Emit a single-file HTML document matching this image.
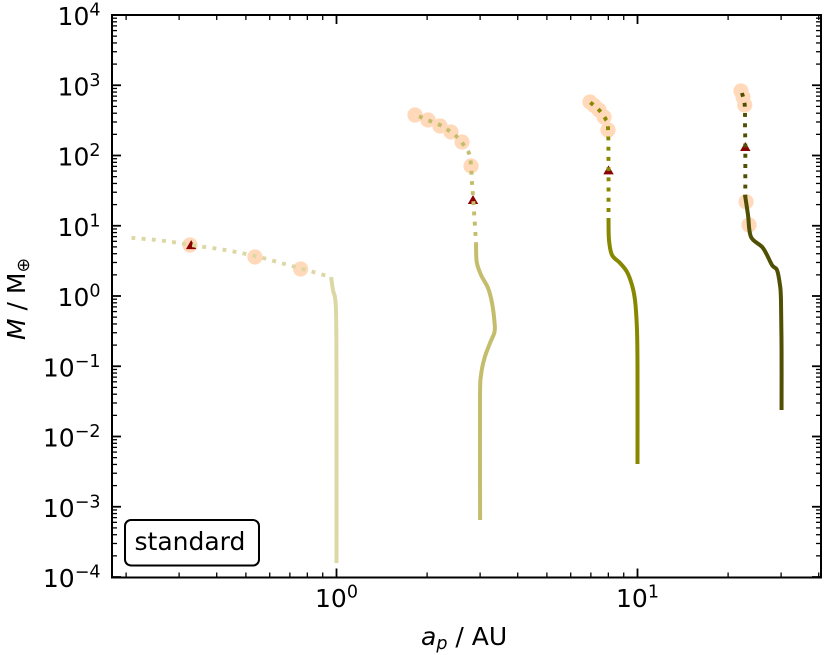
<!DOCTYPE html>
<html>
<head>
<meta charset="utf-8">
<title>Planet growth tracks</title>
<style>
html,body{margin:0;padding:0;background:#fff;}
svg{display:block;}
text{font-family:"DejaVu Sans","Liberation Sans",sans-serif;fill:#000;}
</style>
</head>
<body>
<svg id="chart" width="830" height="655" viewBox="0 0 830 655" xmlns="http://www.w3.org/2000/svg">
  <g id="marks"></g>
  <g id="ticks"></g>
  <rect x="112" y="15" width="709" height="562.5" fill="none" stroke="#000" stroke-width="2"/>
  <g id="labels"></g>
  <text x="421" y="645" font-size="25"><tspan font-style="italic">a</tspan><tspan font-style="italic" font-size="17.5" dy="4">p</tspan><tspan dy="-4"> / AU</tspan></text>
  <text transform="translate(25 340) rotate(-90)" font-size="25"><tspan font-style="italic">M</tspan><tspan> / M</tspan><tspan font-size="17.5" dy="4">⊕</tspan></text>
  <g>
    <rect x="125" y="520" width="134" height="45.5" rx="6" ry="6" fill="#fff" stroke="#000" stroke-width="2"/>
    <text x="134.5" y="550" font-size="25">standard</text>
  </g>
</svg>
<script>
// Axis ticks
const xMajorTicks = [1, 10];
const xTickExponents = ['0', '1'];
const xMinorTicks = [0.2, 0.3, 0.4, 0.5, 0.6, 0.7, 0.8, 0.9, 2, 3, 4, 5, 6, 7, 8, 9, 20, 30, 40];
const yMajorTicks = [1e-4, 1e-3, 1e-2, 1e-1, 1, 10, 100, 1000, 10000];
const yTickExponents = ['−4', '−3', '−2', '−1', '0', '1', '2', '3', '4'];
const yMinorFactors = [2, 3, 4, 5, 6, 7, 8, 9];

// Planet 1 (a0 = 1 AU)
const p1SolidA = [0.959, 0.973, 0.996, 1.0, 1.0];
const p1SolidM = [1.86, 1.22, 0.632, 0.033, 1.58e-4];
const p1DotA = [0.2084, 0.269, 0.336, 0.426, 0.536, 0.674, 0.959];
const p1DotM = [6.74, 6.07, 5.24, 4.52, 3.71, 2.85, 1.86];
const p1CircleA = [0.326, 0.536, 0.760];
const p1CircleM = [5.32, 3.59, 2.42];
const p1TriangleA = 0.329;
const p1TriangleM = 5.3;

// Planet 2 (a0 = 3 AU)
const p2SolidA = [2.908, 2.923, 3.021, 3.187, 3.286, 3.349, 3.349, 3.236, 3.103, 3.021, 2.997, 3.0];
const p2SolidM = [5.68, 3.05, 1.99, 1.30, 0.795, 0.426, 0.307, 0.214, 0.131, 0.0751, 0.0331, 6.48e-4];
const p2DotA = [1.880, 2.045, 2.207, 2.346, 2.495, 2.632, 2.749, 2.791, 2.819, 2.847, 2.908];
const p2DotM = [361.4, 309.8, 271.7, 230.7, 189.6, 145.8, 110.0, 80.8, 40.6, 23.26, 5.68];
const p2CircleA = [1.823, 2.014, 2.207, 2.401, 2.612, 2.798];
const p2CircleM = [377.2, 320.1, 262.9, 216.0, 155.7, 70.9];
const p2TriangleA = 2.841;
const p2TriangleM = 23.26;

// Planet 3 (a0 = 10 AU)
const p3SolidA = [8.011, 8.04, 8.228, 8.747, 9.228, 9.587, 9.811, 9.961, 10, 10];
const p3SolidM = [12.89, 6.27, 3.83, 2.95, 2.20, 1.43, 0.877, 0.328, 0.0884, 4.06e-3];
const p3DotA = [6.968, 7.450, 7.834, 7.980, 8.011, 8.011];
const p3DotM = [568.2, 444.4, 330.8, 246.3, 60.2, 12.89];
const p3CircleA = [6.953, 7.17, 7.450, 7.742, 7.980];
const p3CircleM = [577.6, 514.9, 444.4, 353.2, 230.7];
const p3TriangleA = 8.011;
const p3TriangleM = 61.5;

// Planet 4 (a0 = 30 AU)
const p4SolidA = [22.76, 23.29, 23.83, 26.12, 27.98, 29.07, 29.74, 29.97, 30.1, 30.1];
const p4SolidM = [27.4, 14.2, 6.92, 4.82, 2.76, 2.34, 1.43, 0.877, 0.170, 0.0238];
const p4DotA = [22.24, 22.71, 22.76, 22.81, 22.81];
const p4DotM = [775.6, 523.4, 271.8, 132.1, 25.67];
const p4CircleA = [22.07, 22.41, 22.71, 22.94, 23.47];
const p4CircleM = [828.2, 680.3, 523.4, 22.0, 10.25];
const p4TriangleA = 22.81;
const p4TriangleM = 132.1;

const NS = 'http://www.w3.org/2000/svg';
const marks = document.getElementById('marks');
const ticks = document.getElementById('ticks');
const labels = document.getElementById('labels');

function xScale(a) { return 336.5 + 301 * Math.log10(a); }
function yScale(m) { return 296 - 70.25 * Math.log10(m); }

function make(tag, parent, attrs) {
  const el = document.createElementNS(NS, tag);
  for (const k in attrs) el.setAttribute(k, attrs[k]);
  parent.appendChild(el);
  return el;
}
// Smooth Catmull-Rom path through the projected data points
function curveOf(as, ms) {
  const p = as.map((a, i) => [xScale(a), yScale(ms[i])]);
  let d = 'M' + p[0][0].toFixed(2) + ' ' + p[0][1].toFixed(2);
  for (let i = 0; i < p.length - 1; i++) {
    const p0 = p[Math.max(i - 1, 0)], p1 = p[i], p2 = p[i + 1], p3 = p[Math.min(i + 2, p.length - 1)];
    const c1x = p1[0] + (p2[0] - p0[0]) / 6, c1y = p1[1] + (p2[1] - p0[1]) / 6;
    const c2x = p2[0] - (p3[0] - p1[0]) / 6, c2y = p2[1] - (p3[1] - p1[1]) / 6;
    d += 'C' + c1x.toFixed(2) + ' ' + c1y.toFixed(2) + ' ' + c2x.toFixed(2) + ' ' + c2y.toFixed(2) + ' ' + p2[0].toFixed(2) + ' ' + p2[1].toFixed(2);
  }
  return d;
}

function drawCircles(as, ms, id) {
  as.forEach((a, i) => {
    const c = make('circle', marks, { cx: xScale(a), cy: yScale(ms[i]), r: 7.6, fill: '#ffd9b9' });
    
    
  });
}
function drawTriangle(a, m, id) {
  const x = xScale(a), y = yScale(m);
  const t = make('polygon', marks, {
    points: (x - 5.2) + ',' + (y + 4) + ' ' + (x + 5.2) + ',' + (y + 4) + ' ' + x + ',' + (y - 5),
    fill: '#8b0000'
  });
  
  
}
function drawDotted(as, ms, color, id) {
  const l = make('path', marks, {
    d: curveOf(as, ms), fill: 'none', stroke: color,
    'stroke-width': 3.9, 'stroke-dasharray': '3.9 6.3', 'stroke-linejoin': 'round'
  });
  
  
}
function drawSolid(as, ms, color, id) {
  const l = make('path', marks, {
    d: curveOf(as, ms), fill: 'none', stroke: color,
    'stroke-width': 4, 'stroke-linejoin': 'round'
  });
  
  
}

// Snapshot circles sit under everything
drawCircles(p1CircleA, p1CircleM, 'planet-1');
drawCircles(p2CircleA, p2CircleM, 'planet-2');
drawCircles(p3CircleA, p3CircleM, 'planet-3');
drawCircles(p4CircleA, p4CircleM, 'planet-4');
drawTriangle(p1TriangleA, p1TriangleM, 'planet-1');
drawTriangle(p2TriangleA, p2TriangleM, 'planet-2');
drawTriangle(p3TriangleA, p3TriangleM, 'planet-3');
drawTriangle(p4TriangleA, p4TriangleM, 'planet-4');
drawDotted(p1DotA, p1DotM, '#dcd8a4', 'planet-1');
drawSolid(p1SolidA, p1SolidM, '#dcd8a4', 'planet-1');
drawDotted(p2DotA, p2DotM, '#c4bd6c', 'planet-2');
drawSolid(p2SolidA, p2SolidM, '#c4bd6c', 'planet-2');
drawDotted(p3DotA, p3DotM, '#888800', 'planet-3');
drawSolid(p3SolidA, p3SolidM, '#888800', 'planet-3');
drawDotted(p4DotA, p4DotM, '#505005', 'planet-4');
drawSolid(p4SolidA, p4SolidM, '#505005', 'planet-4');

function tickLine(x1, y1, x2, y2, w, name) {
  const t = make('line', ticks, { x1: x1, y1: y1, x2: x2, y2: y2, stroke: '#000', 'stroke-width': w });
  
  
}
const BOTTOM = 577.5, TOP = 15, LEFT = 112, RIGHT = 821;

xMajorTicks.forEach(v => {
  const x = xScale(v);
  tickLine(x, BOTTOM, x, BOTTOM - 9, 1.8, 'x-major-tick');
  tickLine(x, TOP, x, TOP + 9, 1.8, 'x-major-tick-top');
});
xMinorTicks.forEach(v => {
  const x = xScale(v);
  tickLine(x, BOTTOM, x, BOTTOM - 5, 1.3, 'x-minor-tick');
  tickLine(x, TOP, x, TOP + 5, 1.3, 'x-minor-tick-top');
});
yMajorTicks.forEach((v, i) => {
  const y = yScale(v);
  tickLine(LEFT, y, LEFT + 9, y, 1.8, 'y-major-tick');
  tickLine(RIGHT, y, RIGHT - 9, y, 1.8, 'y-major-tick-right');
  if (i < yMajorTicks.length - 1) {
    yMinorFactors.forEach(f => {
      const my = yScale(v * f);
      tickLine(LEFT, my, LEFT + 5, my, 1.3, 'y-minor-tick');
      tickLine(RIGHT, my, RIGHT - 5, my, 1.3, 'y-minor-tick-right');
    });
  }
});

function tickLabel(x, y, anchor, exponent, name) {
  const t = make('text', labels, { x: x, y: y, 'text-anchor': anchor, 'font-size': 25 });
  
  
  const base = make('tspan', t, {});
  base.textContent = '10';
  const sup = make('tspan', t, { 'font-size': 17.5, dy: -9.5 });
  sup.textContent = exponent;
}
xMajorTicks.forEach((v, i) => {
  tickLabel(xScale(v), 607, 'middle', xTickExponents[i], 'x-tick-label');
});
yMajorTicks.forEach((v, i) => {
  tickLabel(100.5, yScale(v) + 10, 'end', yTickExponents[i], 'y-tick-label');
});
</script>
</body>
</html>
